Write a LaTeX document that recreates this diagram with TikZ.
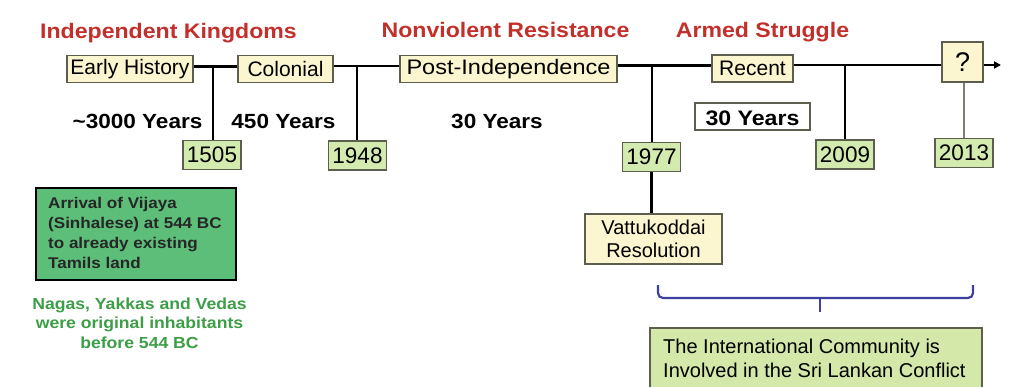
\documentclass[tikz,border=0pt]{standalone}
\usepackage{fontspec}
\setmainfont{Liberation Sans}
\newfontfamily\widebold[FakeStretch=1.1]{Liberation Sans Bold}
\newfontfamily\widereg[FakeStretch=1.12]{Liberation Sans}
\usetikzlibrary{arrows.meta}
\definecolor{titlered}{HTML}{C3302C}
\definecolor{boxyellow}{HTML}{FBF6CF}
\definecolor{yeargreen}{HTML}{D4EBB0}
\definecolor{boxborder}{HTML}{5E5E4E}
\definecolor{darkgreenbox}{HTML}{5CBE78}
\definecolor{notegreen}{HTML}{3C9E46}
\definecolor{braceblue}{HTML}{3D409E}
\definecolor{commgreen}{HTML}{D3E8A9}
\tikzset{
  title/.style={text=titlered,font=\widebold\fontsize{21}{24}\selectfont,inner sep=0pt,anchor=base},
  period/.style={draw=boxborder,line width=1.5pt,fill=boxyellow,font=\fontsize{21}{24}\selectfont,inner sep=0pt,minimum height=27pt},
  yearbox/.style={draw=boxborder,line width=1.5pt,fill=yeargreen,font=\fontsize{22.5}{25}\selectfont,inner sep=0pt,minimum height=29pt,minimum width=58pt},
  years/.style={font=\widebold\fontsize{20.5}{24}\selectfont,inner sep=0pt,anchor=base},
  tline/.style={line width=2.5pt},
}
\begin{document}
\begin{tikzpicture}[x=1pt,y=-1pt]
\useasboundingbox[fill=white] (0,0) rectangle (1012,386);
% titles
\node[title] (t1) at (168.5,38) {Independent Kingdoms};
\node[title] (t2) at (505.5,37) {Nonviolent Resistance};
\node[title] (t3) at (762.5,37) {Armed Struggle};
% period boxes
\node[period,minimum width=126pt] (early) at (130,69) {Early History};
\node[period,minimum width=95pt] (colonial) at (285.5,69) {Colonial};
\node[period,minimum width=217pt,font=\widereg\fontsize{21}{24}\selectfont] (post) at (508.5,69) {Post-Independence};
\node[period,minimum width=81pt] (recent) at (752.5,68.5) {Recent};
\node[period,minimum width=41pt,minimum height=40pt,font=\fontsize{27}{30}\selectfont] (q) at (962.5,62) {?};
\coordinate (end) at (1001,65);
% junctions
\coordinate (j1) at (213,66.5);
\coordinate (j2) at (357,66);
\coordinate (j3) at (652,65.5);
\coordinate (j4) at (845,65);
% timeline
\draw[tline] (early.east |- j1) -- (colonial.west |- j1);
\draw[tline] (colonial.east |- j2) -- (post.west |- j2);
\draw[tline] (post.east |- j3) -- (recent.west |- j3);
\draw[tline] (recent.east |- j4) -- (q.west |- j4);
\draw[line width=1.8pt,-{Triangle[length=7pt,width=7pt]}] (q.east |- end) -- (end);
% year boxes
\node[yearbox] (y1505) at (212,155) {1505};
\node[yearbox] (y1948) at (357.5,155.5) {1948};
\node[yearbox] (y1977) at (651.5,157) {1977};
\node[yearbox] (y2009) at (845,154.5) {2009};
\node[yearbox] (y2013) at (964,153) {2013};
\draw[tline] (j1) -- (y1505.north -| j1);
\draw[tline] (j2) -- (y1948.north -| j2);
\draw[tline] (j3) -- (y1977.north -| j3);
\draw[tline] (j4) -- (y2009.north -| j4);
\draw[line width=1.5pt,draw=boxborder!80] (q.south -| y2013.north) -- (y2013.north);
% vattukoddai
\node[period,minimum width=137pt,minimum height=50pt,align=center,font=\fontsize{20}{23}\selectfont] (vatt) at (653.5,239) {Vattukoddai\\Resolution};
\draw[tline] (y1977.south) -- (vatt.north -| y1977.south);
% years labels
\node[years] (a3000) at (137.5,128) {\textasciitilde 3000 Years};
\node[years] (a450) at (283.5,128) {450 Years};
\node[years] (a30) at (497,128) {30 Years};
\node[draw=boxborder,line width=1.2pt,fill=white,minimum width=115pt,minimum height=27pt,inner sep=0pt] (b30) at (752.5,116.5) {};
\node[years,font=\widebold\fontsize{21}{24}\selectfont] (b30t) at (752.5,125) {30 Years};
% Vijaya box
\node[draw=black,line width=2.8pt,fill=darkgreenbox,minimum width=200pt,minimum height=92pt,inner sep=0pt] (vij) at (136,234) {};
\node[anchor=base west,align=left,inner sep=0pt,font=\widebold\fontsize{15.5}{20}\selectfont,text=black!85] (vijt) at (48,268) {Arrival of Vijaya\\(Sinhalese) at 544 BC\\to already existing\\Tamils land};
% note
\node[anchor=base,align=center,inner sep=0pt,text=notegreen,font=\widebold\fontsize{16}{19.5}\selectfont] (note) at (139.5,348) {Nagas, Yakkas and Vedas\\were original inhabitants\\before 544 BC};
% brace
\coordinate (bl) at (658,285);
\coordinate (br) at (973,285);
\coordinate (bt) at (820,312);
\draw[braceblue,line width=2.2pt,rounded corners=5pt] (bl) -- (658,298) -- (973,298) -- (br);
\draw[braceblue,line width=2.2pt] (820,298) -- (bt);
% community box
\node[draw=boxborder,line width=1.5pt,fill=commgreen,minimum width=332pt,minimum height=70pt,inner sep=0pt] (comm) at (816,363) {};
\node[anchor=base west,align=left,inner sep=0pt,font=\fontsize{20}{24}\selectfont] (commt) at (663,377) {The International Community is\\Involved in the Sri Lankan Conflict};
\end{tikzpicture}
\end{document}
